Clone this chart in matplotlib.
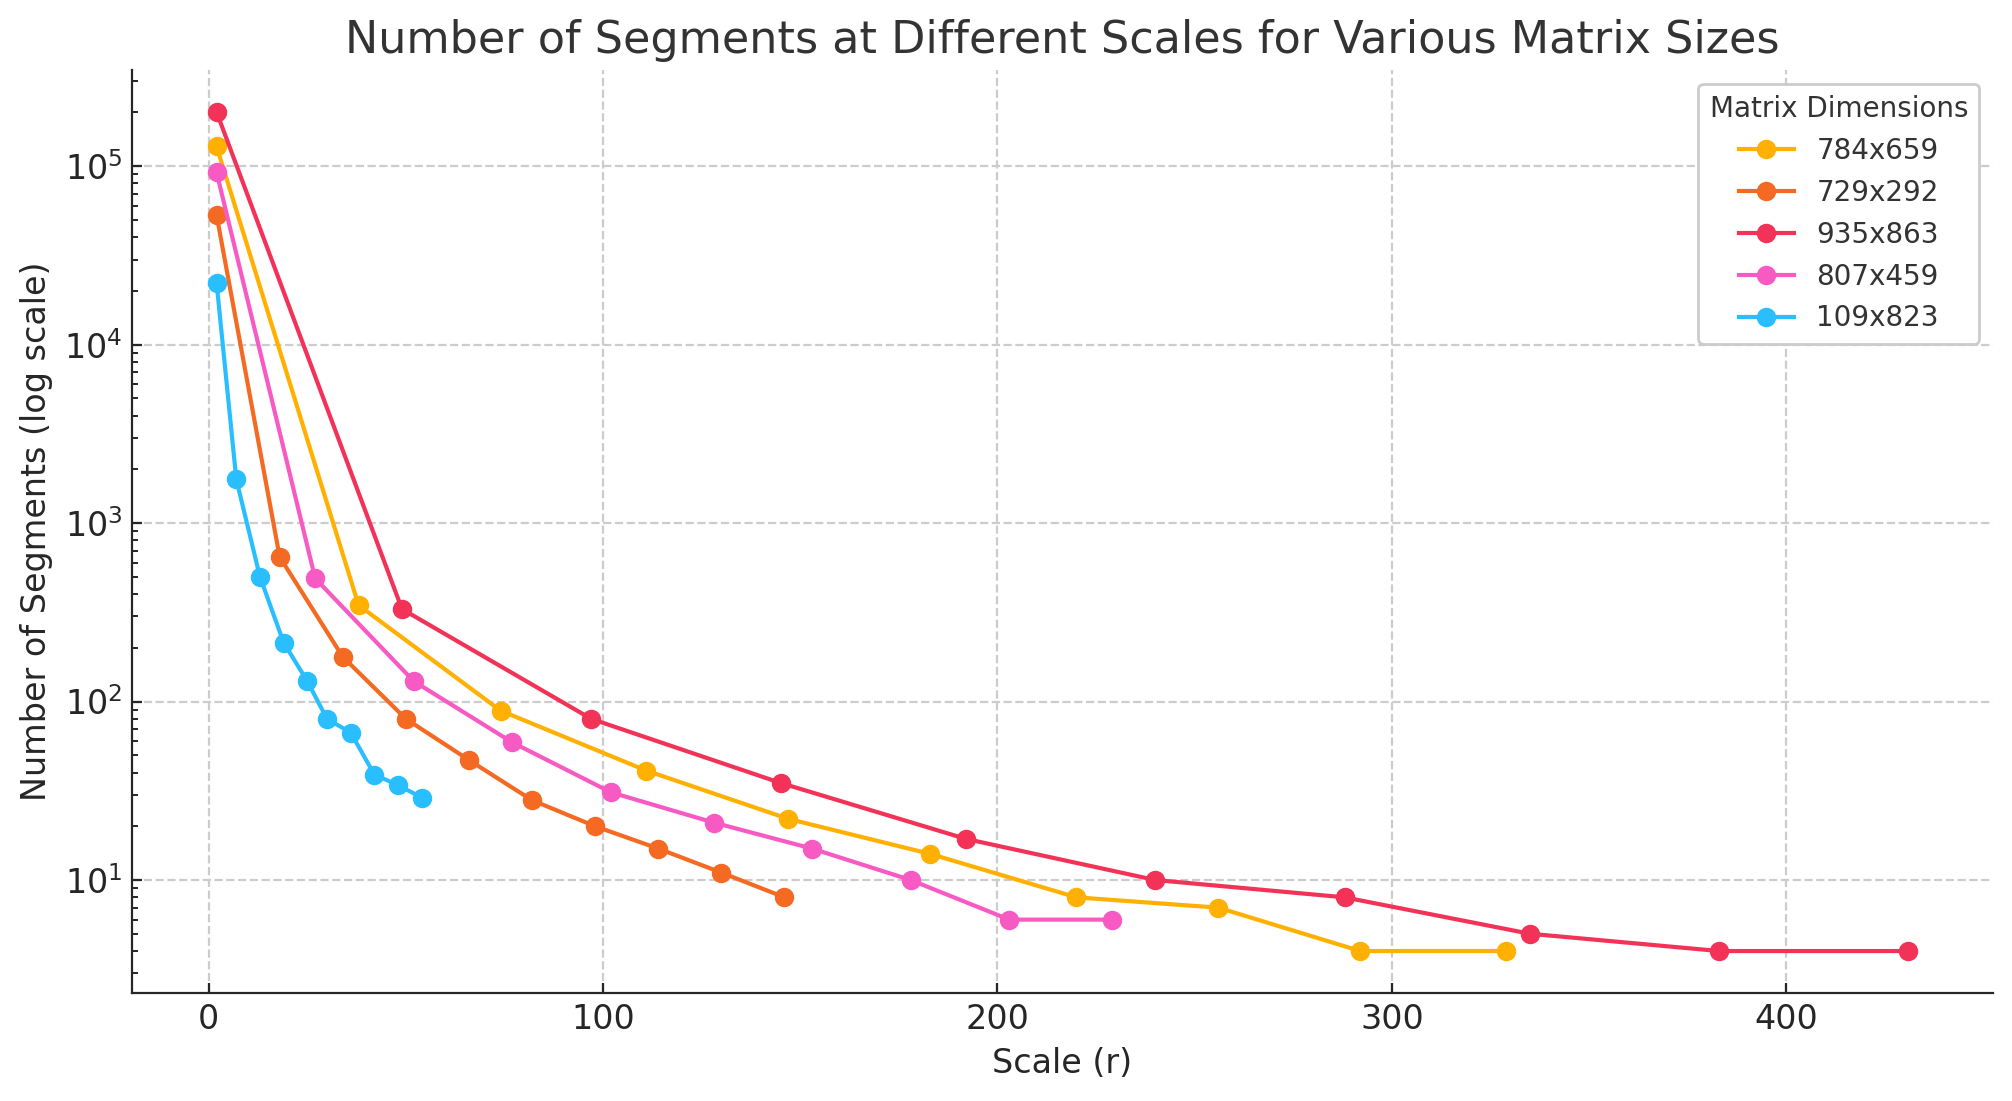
import matplotlib
matplotlib.use("Agg")
import matplotlib.pyplot as plt

# data
labels = ["784x659", "729x292", "935x863", "807x459", "109x823"]

scales_784 = [2, 38, 74, 111, 147, 183, 220, 256, 292, 329]
segs_784 = [128968, 347, 89, 41, 22, 14, 8, 7, 4, 4]

scales_729 = [2, 18, 34, 50, 66, 82, 98, 114, 130, 146]
segs_729 = [53144, 646, 178, 80, 47, 28, 20, 15, 11, 8]

scales_935 = [2, 49, 97, 145, 192, 240, 288, 335, 383, 431]
segs_935 = [201277, 330, 80, 35, 17, 10, 8, 5, 4, 4]

scales_807 = [2, 27, 52, 77, 102, 128, 153, 178, 203, 229]
segs_807 = [92287, 490, 130, 59, 31, 21, 15, 10, 6, 6]

scales_109 = [2, 7, 13, 19, 25, 30, 36, 42, 48, 54]
segs_109 = [22194, 1757, 500, 214, 130, 80, 67, 39, 34, 29]

colors = ["#FFB000", "#F46A22", "#F23257", "#F85AC3", "#29BFFF"]

plt.rcParams['font.family'] = ['DejaVu Sans']
plt.rcParams['xtick.direction'] = 'in'
plt.rcParams['ytick.direction'] = 'in'

fig = plt.figure(figsize=(2012/200, 1101/200), dpi=200)
ax = fig.add_axes([0.0656, 0.0981, 0.9906-0.0656, 0.9364-0.0981])

series = [(scales_784, segs_784), (scales_729, segs_729), (scales_935, segs_935),
          (scales_807, segs_807), (scales_109, segs_109)]
for (x, y), lab, c in zip(series, labels, colors):
    ax.plot(x, y, marker='o', color=c, label=lab, linewidth=1.5, markersize=6)

ax.set_yscale('log')
ax.set_title("Number of Segments at Different Scales for Various Matrix Sizes",
             fontsize=16, color='#333333')
ax.set_xlabel("Scale (r)", fontsize=12, color='#262626')
ax.set_ylabel("Number of Segments (log scale)", fontsize=12, color='#262626')
ax.tick_params(labelsize=12, colors='#262626')
ax.set_xticks([0, 100, 200, 300, 400])

ax.grid(True, which='major', linestyle='--', color='#cccccc', linewidth=0.8)
ax.set_axisbelow(True)
for s in ['top', 'right']:
    ax.spines[s].set_visible(False)
for s in ['left', 'bottom']:
    ax.spines[s].set_color('#262626')

leg = ax.legend(title="Matrix Dimensions", fontsize=10, title_fontsize=10,
                loc='upper right', frameon=True, edgecolor='#cccccc', framealpha=1)
for t in leg.get_texts():
    t.set_color('#333333')
leg.get_title().set_color('#333333')

fig.savefig("out.png", dpi=200)
